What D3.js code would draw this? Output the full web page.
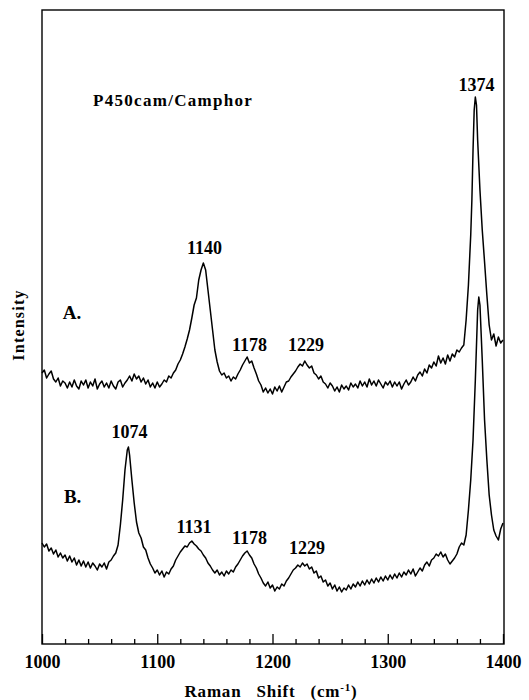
<!DOCTYPE html>
<html>
<head>
<meta charset="utf-8">
<script src="https://cdn.jsdelivr.net/npm/d3@7"></script>
<style>
  body { margin: 0; background: #fff; }
  text { font-family: "Liberation Serif", "Times New Roman", serif; font-weight: bold; fill: #000; }
</style>
</head>
<body>
<svg id="chart" width="529" height="700"></svg>
<script>
// Raman shift (cm-1) and intensity (arbitrary units)
var shiftA = [1000,1002,1004,1006,1008,1010,1012,1014,1016,1018,1020,1022,1024,1026,1028,1030,1032,1034,1036,1038,1040,1042,1044,1046,1048,1050,1052,1054,1056,1058,1060,1062,1064,1066,1068,1070,1072,1074,1076,1078,1080,1082,1084,1086,1088,1090,1092,1094,1096,1098,1100,1102,1104,1106,1108,1110,1112,1114,1116,1118,1120,1122,1124,1126,1128,1130,1132,1134,1136,1138,1140,1142,1144,1146,1148,1150,1152,1154,1156,1158,1160,1162,1164,1166,1168,1170,1172,1174,1176,1178,1180,1182,1184,1186,1188,1190,1192,1194,1196,1198,1200,1202,1204,1206,1208,1210,1212,1214,1216,1218,1220,1222,1224,1226,1228,1230,1232,1234,1236,1238,1240,1242,1244,1246,1248,1250,1252,1254,1256,1258,1260,1262,1264,1266,1268,1270,1272,1274,1276,1278,1280,1282,1284,1286,1288,1290,1292,1294,1296,1298,1300,1302,1304,1306,1308,1310,1312,1314,1316,1318,1320,1322,1324,1326,1328,1330,1332,1334,1336,1338,1340,1342,1344,1346,1348,1350,1352,1354,1356,1358,1360,1362,1364,1366,1368,1370,1372,1373,1374,1375,1376,1377,1378,1380,1382,1384,1386,1388,1390,1392,1394,1396,1398,1400];
var intensityA = [271,274,266,270,273,265,262,266,258,263,261,256,262,257,264,258,255,263,259,264,256,262,258,265,255,260,263,257,261,256,263,258,255,262,264,257,261,264,268,263,270,265,268,262,266,260,264,257,261,256,262,257,260,264,262,268,266,271,274,280,284,290,297,305,314,326,339,346,364,374,381,374,354,334,314,294,282,273,269,271,266,268,263,267,265,270,274,279,283,287,281,283,276,270,263,259,252,256,251,255,250,257,253,258,252,257,262,263,267,270,273,277,280,278,283,279,276,278,271,269,265,268,262,260,256,261,258,253,257,252,259,255,258,254,261,257,260,256,263,258,262,257,265,259,263,258,264,260,256,262,259,263,257,262,258,262,255,260,264,259,262,267,263,269,272,268,275,271,279,276,282,278,288,281,286,280,289,283,290,287,294,292,296,299,324,359,409,444,494,534,547,539,504,454,414,382,349,319,304,310,298,307,301,304];

var shiftB = [1000,1002,1004,1006,1008,1010,1012,1014,1016,1018,1020,1022,1024,1026,1028,1030,1032,1034,1036,1038,1040,1042,1044,1046,1048,1050,1052,1054,1056,1058,1060,1062,1064,1066,1068,1070,1072,1074,1075,1076,1078,1080,1082,1084,1086,1088,1090,1092,1094,1096,1098,1100,1102,1104,1106,1108,1110,1112,1114,1116,1118,1120,1122,1124,1126,1128,1130,1132,1134,1136,1138,1140,1142,1144,1146,1148,1150,1152,1154,1156,1158,1160,1162,1164,1166,1168,1170,1172,1174,1176,1178,1180,1182,1184,1186,1188,1190,1192,1194,1196,1198,1200,1202,1204,1206,1208,1210,1212,1214,1216,1218,1220,1222,1224,1226,1228,1230,1232,1234,1236,1238,1240,1242,1244,1246,1248,1250,1252,1254,1256,1258,1260,1262,1264,1266,1268,1270,1272,1274,1276,1278,1280,1282,1284,1286,1288,1290,1292,1294,1296,1298,1300,1302,1304,1306,1308,1310,1312,1314,1316,1318,1320,1322,1324,1326,1328,1330,1332,1334,1336,1338,1340,1342,1344,1346,1348,1350,1352,1354,1356,1358,1360,1362,1364,1366,1368,1370,1372,1374,1376,1378,1379,1380,1382,1384,1386,1388,1390,1392,1394,1396,1398,1400];
var intensityB = [101,97,100,93,96,90,94,87,91,86,89,83,88,82,86,79,84,78,83,77,82,76,81,78,74,80,77,81,75,82,84,88,91,99,119,144,174,194,197,189,164,141,122,111,106,97,94,86,80,76,71,74,69,73,67,72,70,75,78,84,88,92,95,98,97,101,103,100,98,95,93,89,86,81,78,74,71,74,69,72,68,73,70,74,72,77,80,84,88,91,93,89,86,80,76,70,66,61,58,62,56,59,53,57,55,60,58,63,66,70,74,76,79,77,81,78,80,75,77,71,73,66,68,62,64,58,61,55,59,53,57,52,56,54,59,55,60,57,62,58,63,59,64,60,65,61,66,62,67,63,68,64,69,65,70,66,71,67,72,69,74,70,75,68,72,76,73,79,82,78,84,86,90,88,92,87,90,84,80,83,86,90,97,101,99,109,134,164,204,264,334,347,339,284,224,184,149,129,114,108,104,115,121];

// peak labels: text, position in shift / intensity units
var peakLabels = ["1374", "1140", "1178", "1229", "1074", "1131", "1178", "1229"];
var labelShift = [1377, 1141, 1180, 1229, 1076, 1132, 1180, 1230];
var labelLevel = [553, 390, 293, 293, 206, 111, 100, 90];

var traceNames = ["A.", "B."];
var traceNameShift = [1018, 1019];
var traceNameLevel = [325, 141];

var majorTicks = [1000, 1100, 1200, 1300, 1400];
var minorTicks = d3.range(1020, 1400, 20).filter(function(d) { return d % 100 != 0; });

var margin = {top: 10, right: 26, bottom: 56, left: 42};
var height = 700 - margin.top - margin.bottom;

var svg = d3.select("#chart");
var g = svg.append("g").attr("transform", "translate(" + margin.left + "," + margin.top + ")");

var x = d3.scaleLinear().domain([1000, 1400]).range([0, 461]);
var y = d3.scaleLinear().domain([0, 634]).range([height, 0]);

// frame
g.append("rect")
  .attr("x", 0).attr("y", 0)
  .attr("width", 462).attr("height", height)
  .attr("fill", "none")
  .attr("stroke", "#000")
  .attr("stroke-width", 1.4);

var minorAxis = d3.axisBottom(x).tickValues(minorTicks).tickSize(-5).tickFormat("");
var majorAxis = d3.axisBottom(x).tickValues(majorTicks).tickSize(-10).tickPadding(11).tickFormat(d3.format("d"));

var gMinor = g.append("g").attr("transform", "translate(0," + height + ")").call(minorAxis);
var gMajor = g.append("g").attr("transform", "translate(0," + height + ")").call(majorAxis);
gMinor.select(".domain").remove();
gMajor.select(".domain").remove();
g.selectAll(".tick line").attr("stroke", "#000").attr("stroke-width", 1.3);
gMajor.selectAll(".tick text")
  .style("font-family", "Liberation Serif, serif")
  .style("font-weight", "bold")
  .style("font-size", "18px")
  .attr("fill", "#000");

var line = d3.line()
  .x(function(d) { return x(d[0]); })
  .y(function(d) { return y(d[1]); });

var traces = [d3.zip(shiftA, intensityA), d3.zip(shiftB, intensityB)];
g.selectAll("path.trace")
  .data(traces)
  .enter().append("path")
  .attr("class", "trace")
  .attr("d", line)
  .attr("fill", "none")
  .attr("stroke", "#000")
  .attr("stroke-width", 1.5)
  .attr("stroke-linejoin", "round");

g.selectAll("text.peak")
  .data(peakLabels)
  .enter().append("text")
  .attr("class", "peak")
  .attr("x", function(d, i) { return x(labelShift[i]); })
  .attr("y", function(d, i) { return y(labelLevel[i]); })
  .attr("text-anchor", "middle")
  .style("font-size", "18px")
  .text(function(d) { return d; });

g.selectAll("text.name")
  .data(traceNames)
  .enter().append("text")
  .attr("class", "name")
  .attr("x", function(d, i) { return x(traceNameShift[i]); })
  .attr("y", function(d, i) { return y(traceNameLevel[i]); })
  .style("font-size", "19px")
  .text(function(d) { return d; });

// sample title
g.append("text")
  .attr("x", 51).attr("y", 96)
  .style("font-size", "17px")
  .style("letter-spacing", "1.3px")
  .text("P450cam/Camphor");

// axis titles
var xt = svg.append("text")
  .attr("x", 271).attr("y", 697)
  .attr("text-anchor", "middle")
  .style("font-size", "17px")
  .style("word-spacing", "10px")
  .style("letter-spacing", "0.8px");
xt.append("tspan").text("Raman Shift (cm");
xt.append("tspan").attr("baseline-shift", "super").style("font-size", "11px").text("-1");
xt.append("tspan").text(")");

svg.append("text")
  .attr("transform", "translate(24,325) rotate(-90)")
  .attr("text-anchor", "middle")
  .style("font-size", "16px")
  .style("letter-spacing", "1.2px")
  .text("Intensity");
</script>
</body>
</html>
